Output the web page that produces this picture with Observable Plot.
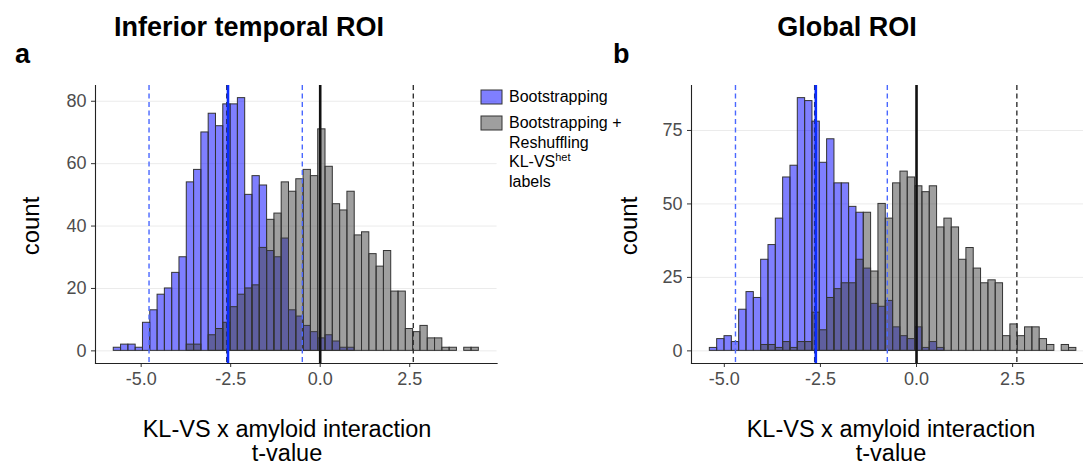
<!DOCTYPE html>
<html>
<head>
<meta charset="utf-8">
<script src="https://cdn.jsdelivr.net/npm/d3@7"></script>
<script src="https://cdn.jsdelivr.net/npm/@observablehq/plot@0.6"></script>
<style>
  html, body { margin: 0; padding: 0; background: #fff; overflow: hidden; }
  #wrap { position: relative; width: 1083px; height: 468px; font-family: "Liberation Sans", Arial, sans-serif; }
</style>
</head>
<body>
<div id="wrap"></div>
<script>
// ---------- data ----------
const titleA = "Inferior temporal ROI";
const titleB = "Global ROI";
const tagA = "a";
const tagB = "b";
const yTitle = "count";
const xTitleLines = ["KL-VS x amyloid interaction", "t-value"];
const legendLabels = ["Bootstrapping", "Bootstrapping +", "Reshuffling", "KL-VS", "labels"];
const legendSup = "het";

const xTicks = [-5, -2.5, 0, 2.5];
const yTicksA = [0, 20, 40, 60, 80];
const yTicksB = [0, 25, 50, 75];

// histogram bins (50 bins each)
const binStartA = -5.765, binWidthA = 0.2039;
const binStartB = -5.377, binWidthB = 0.1907;

// counts per bin: bootstrapping (blue) and bootstrapping + reshuffling (grey)
const bootA = [1,2,2,1,9,13,18,20,25,30, 54,58,70,76,72,79,79,81,50,56, 53,32,30,36,13,11,8,6,4,5, 3,1,1,0,0,0,0,0,0,0, 0,0,0,0,0,0,0,0,0,0];
const nullA = [0,0,0,0,0,0,0,0,0,0, 2,2,0,5,7,9,14,18,20,21, 33,42,44,54,51,55,58,56,71,59, 47,45,51,37,38,31,27,32,19,19, 7,6,8,4,4,1,1,0,1,1];
const bootB = [1,4,5,3,14,20,18,31,36,45, 59,63,86,85,78,64,72,57,57,49, 47,28,16,15,17,8,5,4,8,1, 3,1,0,0,0,0,0,0,0,0, 0,0,0,0,0,0,0,0,0,0];
const nullB = [0,0,0,0,0,0,0,2,2,1, 3,1,3,3,13,7,18,21,23,23, 31,47,27,50,45,57,61,59,56,54, 56,42,45,42,31,35,28,23,24,23, 5,9,5,8,8,4,2,0,2,1];

// reference lines (t-values)
const blueSolidA = [-2.575], blueDashedA = [-4.78, -0.50], blackDashedA = [-2.61, 2.60], blackSolidA = [0];
const blueSolidB = [-2.62], blueDashedB = [-4.71, -0.76], blackDashedB = [-2.65, 2.61], blackSolidB = [0];

// ---------- drawing ----------
const FONT = "Liberation Sans, Arial, Helvetica, sans-serif";
const BLUE = "#0000ff", GREY = "#404040", OUTLINE = "#333333";

function rows(counts, start, width) {
  return counts.map((c, i) => ({x1: start + i * width, x2: start + (i + 1) * width, y: c})).filter(d => d.y > 0);
}

function panel(cfg) {
  const p = Plot.plot({
    width: cfg.svgWidth, height: 468,
    marginLeft: cfg.marginLeft, marginRight: cfg.marginRight, marginTop: 85, marginBottom: 105,
    style: {background: "transparent", fontFamily: FONT, overflow: "visible"},
    x: {domain: cfg.domainX},
    y: {domain: cfg.domainY},
    marks: [
      Plot.gridY(cfg.yTicks, {stroke: "#ebebeb", strokeOpacity: 1, strokeWidth: 1}),
      Plot.rectY(rows(cfg.boot, cfg.start, cfg.width), {x1: "x1", x2: "x2", y: "y", fill: BLUE, fillOpacity: 0.5, stroke: OUTLINE, strokeWidth: 1}),
      Plot.rectY(rows(cfg.nul, cfg.start, cfg.width), {x1: "x1", x2: "x2", y: "y", fill: GREY, fillOpacity: 0.5, stroke: OUTLINE, strokeWidth: 1}),
      Plot.ruleX(cfg.blueDashed, {stroke: "#4a68ff", strokeWidth: 1.4, strokeDasharray: "5,3.5"}),
      Plot.ruleX(cfg.blackDashed, {stroke: "#333", strokeWidth: 1.4, strokeDasharray: "5,3.5"}),
      Plot.ruleX(cfg.blueSolid, {stroke: "#0a2cff", strokeWidth: 2.6}),
      Plot.ruleX(cfg.blackSolid, {stroke: "#111", strokeWidth: 2.6}),
      Plot.axisX(xTicks, {tickFormat: d => d.toFixed(1), tickSize: 4, tickPadding: 5, fontSize: 18, fill: "#4d4d4d", stroke: "#333", label: null}),
      Plot.axisY(cfg.yTicks, {tickFormat: d => String(d), tickSize: 4, tickPadding: 5, fontSize: 18, fill: "#4d4d4d", stroke: "#333", label: null}),
      Plot.frame({anchor: "bottom", stroke: "#222", strokeWidth: 1.1}),
      Plot.frame({anchor: "left", stroke: "#222", strokeWidth: 1.1})
    ]
  });
  p.style.position = "absolute";
  p.style.top = "0px";
  p.style.left = cfg.left + "px";
  return p;
}

const wrap = document.getElementById("wrap");
wrap.appendChild(panel({
  left: 0, svgWidth: 560, marginLeft: 95, marginRight: 63.4,
  domainX: [-6.275, 4.94], domainY: [-4.05, 85.05], yTicks: yTicksA,
  boot: bootA, nul: nullA, start: binStartA, width: binWidthA,
  blueSolid: blueSolidA, blueDashed: blueDashedA, blackDashed: blackDashedA, blackSolid: blackSolidA
}));
wrap.appendChild(panel({
  left: 560, svgWidth: 523, marginLeft: 131, marginRight: 0,
  domainX: [-5.854, 4.344], domainY: [-4.3, 90.3], yTicks: yTicksB,
  boot: bootB, nul: nullB, start: binStartB, width: binWidthB,
  blueSolid: blueSolidB, blueDashed: blueDashedB, blackDashed: blackDashedB, blackSolid: blackSolidB
}));

// ---------- overlay text: titles, axis titles, legend ----------
const ov = d3.select(wrap).append("svg")
  .attr("width", 1083).attr("height", 468)
  .style("position", "absolute").style("left", "0px").style("top", "0px")
  .style("pointer-events", "none")
  .attr("font-family", FONT);

function text(x, y, s, o = {}) {
  return ov.append("text").attr("x", x).attr("y", y).text(s)
    .attr("font-size", o.size || 16)
    .attr("font-weight", o.weight || "normal")
    .attr("text-anchor", o.anchor || "start")
    .attr("fill", o.fill || "#000");
}

text(249, 36, titleA, {size: 27, weight: "bold", anchor: "middle"});
text(847, 36, titleB, {size: 27, weight: "bold", anchor: "middle"});
text(15, 63, tagA, {size: 27, weight: "bold"});
text(613, 63, tagB, {size: 27, weight: "bold"});

[[39, 226], [637, 226]].forEach(([x, y]) => {
  ov.append("text").attr("transform", `translate(${x},${y}) rotate(-90)`)
    .attr("text-anchor", "middle").attr("font-size", 24).text(yTitle);
});

[287, 891].forEach(cx => {
  text(cx, 437, xTitleLines[0], {size: 23.5, anchor: "middle"});
  text(cx, 461, xTitleLines[1], {size: 23.5, anchor: "middle"});
});

// legend
ov.append("rect").attr("x", 481).attr("y", 90).attr("width", 21).attr("height", 14)
  .attr("fill", BLUE).attr("fill-opacity", 0.5).attr("stroke", OUTLINE).attr("stroke-width", 1);
ov.append("rect").attr("x", 481).attr("y", 116).attr("width", 21).attr("height", 14)
  .attr("fill", GREY).attr("fill-opacity", 0.5).attr("stroke", OUTLINE).attr("stroke-width", 1);
text(509, 102, legendLabels[0], {size: 16});
text(509, 128, legendLabels[1], {size: 16});
text(509, 148, legendLabels[2], {size: 16});
const kl = text(509, 167, legendLabels[3], {size: 16});
kl.append("tspan").attr("dy", -6).attr("font-size", 11).text(legendSup);
text(509, 187, legendLabels[4], {size: 16});
</script>
</body>
</html>
